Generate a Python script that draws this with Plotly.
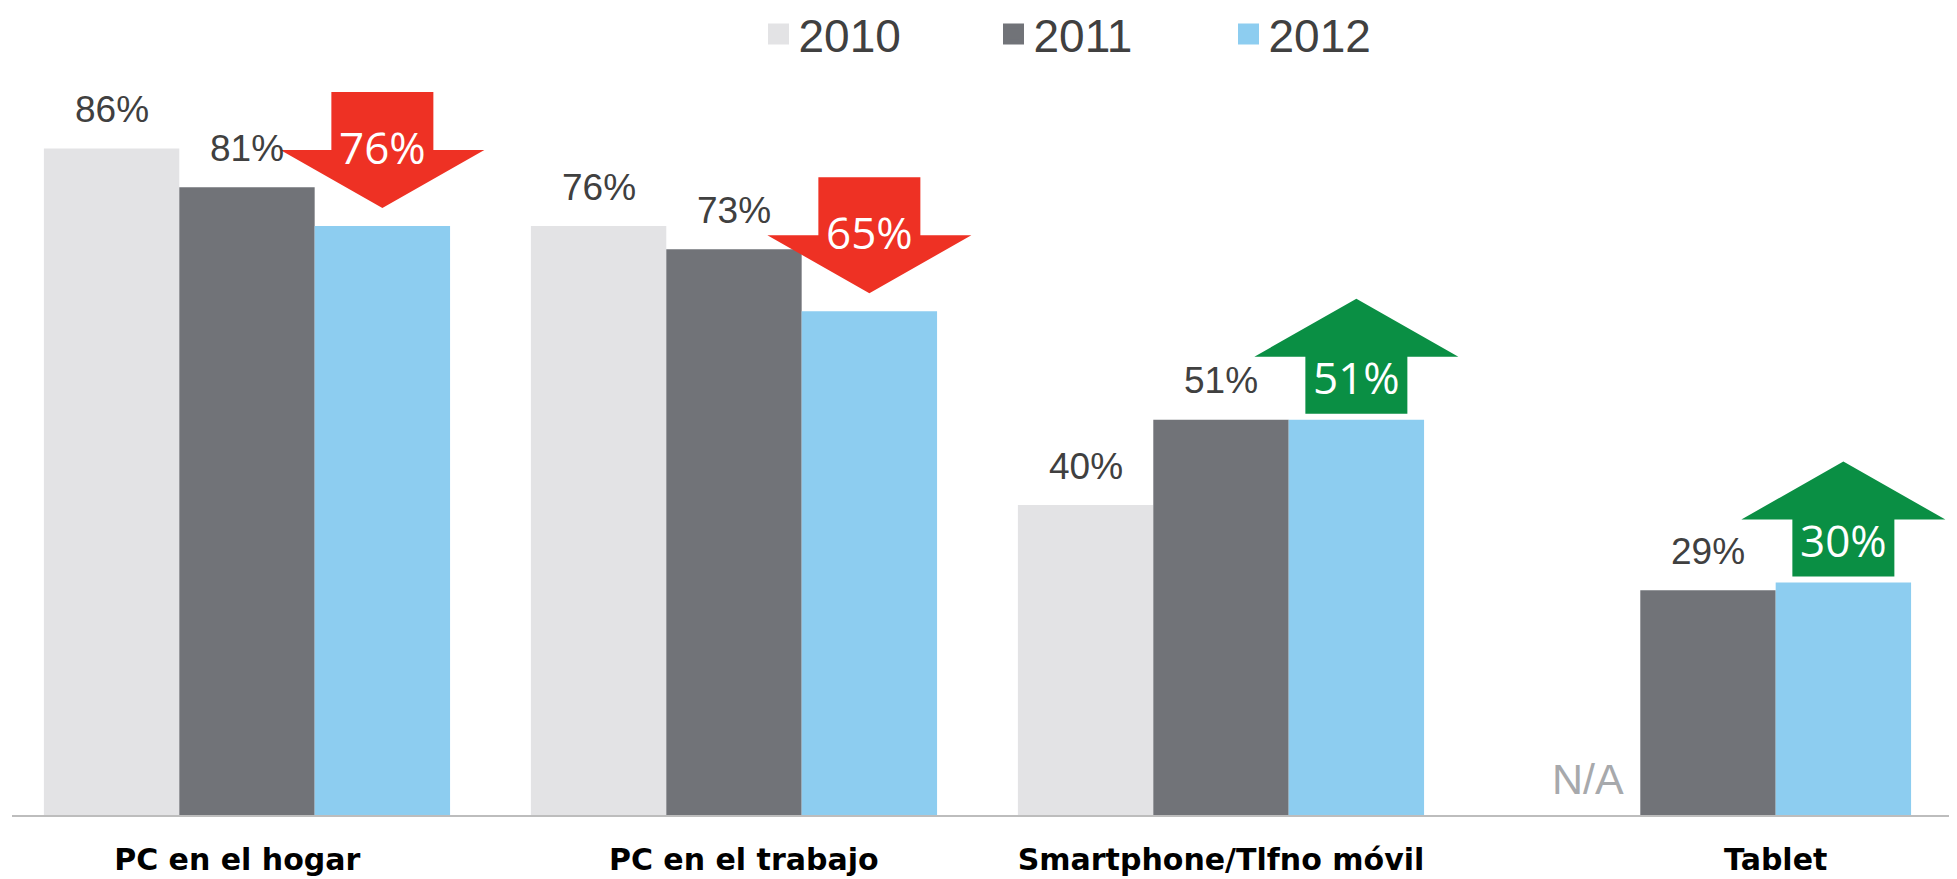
import plotly.graph_objects as go

categories = ["PC en el hogar", "PC en el trabajo", "Smartphone/Tlfno móvil", "Tablet"]
years = ["2010", "2011", "2012"]
values_2010 = [86, 76, 40, None]
values_2011 = [81, 73, 51, 29]
values_2012 = [76, 65, 51, 30]
series = [values_2010, values_2011, values_2012]
colors = ["#E3E3E5", "#717378", "#8DCDF0"]
na_label = "N/A"

BARGAP = 0.166
W = (1 - BARGAP) / 3  # width of one bar in axis units
xidx = list(range(len(categories)))

fig = go.Figure()
for j, (yr, vals, col) in enumerate(zip(years, series, colors)):
    fig.add_trace(go.Bar(
        x=xidx, y=vals, name=yr, marker=dict(color=col, line=dict(width=0)),
        showlegend=False, hoverinfo="skip"))
    # legend proxy
    fig.add_trace(go.Scatter(
        x=[None], y=[None], mode="markers", name=yr,
        marker=dict(symbol="square", size=16, color=col, line=dict(color=col, width=5))))

annotations = []
shapes = []
label_font = dict(family="Liberation Sans, Arial", size=37, color="#404040")
for i in xidx:
    for j, vals in enumerate(series):
        v = vals[i]
        xc = i + (j - 1) * W
        if v is None:
            annotations.append(dict(x=xc, y=0, text=na_label, showarrow=False,
                                    xanchor="center", yanchor="middle", yshift=36, xshift=15,
                                    font=dict(family="Liberation Sans, Arial", size=43, color="#A7A9AC")))
            continue
        if j < 2:
            annotations.append(dict(x=xc, y=v, text=f"{v}%", showarrow=False,
                                    xanchor="center", yanchor="middle", yshift=39,
                                    font=label_font))
        else:
            base = values_2010[i] if values_2010[i] is not None else values_2011[i]
            up = v >= base
            if up:
                path = "M-51,6 L-51,63 L-102,63 L0,121 L102,63 L51,63 L51,6 Z"
                fill = "#0A8F44"
                tshift = 43
            else:
                path = "M0,18 L-102,76 L-51,76 L-51,134 L51,134 L51,76 L102,76 Z"
                fill = "#EE3124"
                tshift = 79
            shapes.append(dict(type="path", xref="x", yref="y", xsizemode="pixel",
                               ysizemode="pixel", xanchor=xc, yanchor=v, path=path,
                               fillcolor=fill, line=dict(width=0), layer="above"))
            annotations.append(dict(x=xc, y=v, text=f"{v}%", showarrow=False,
                                    xanchor="center", yanchor="middle", yshift=tshift,
                                    font=dict(family="Open Sans", size=44, color="white")))

tick_pos = [0 - 0.02, 1 + 0.02, 2, 3 + W / 2]

# the page body adds an 8px margin, so the figure is 8px smaller in each direction
fig.update_layout(
    width=1949, height=871,
    margin=dict(l=4, r=6, t=32, b=64, autoexpand=False),
    paper_bgcolor="white", plot_bgcolor="white",
    barmode="group", bargap=BARGAP, bargroupgap=0,
    annotations=annotations, shapes=shapes,
    legend=dict(orientation="h", x=0.385, xanchor="left", y=1.0075, yanchor="middle",
                font=dict(family="Liberation Sans, Arial", size=46, color="#404040"),
                itemsizing="trace", entrywidth=190, entrywidthmode="pixels",
                bgcolor="rgba(0,0,0,0)"),
    xaxis=dict(range=[-0.4825, 3.499], tickvals=tick_pos, ticktext=categories,
               showgrid=False, zeroline=False, showline=True, linecolor="#BDBDBD",
               linewidth=2, ticks="", ticklabelstandoff=17,
               tickfont=dict(family="DejaVu Sans", size=30, color="black", weight="bold")),
    yaxis=dict(range=[0, 100], visible=False),
)

fig.write_html("out.html")
